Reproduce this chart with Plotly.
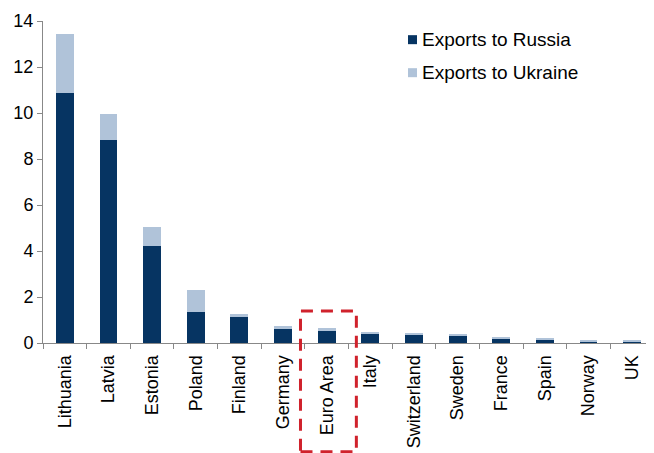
import plotly.graph_objects as go

countries = ["Lithuania", "Latvia", "Estonia", "Poland", "Finland", "Germany", "Euro Area",
             "Italy", "Switzerland", "Sweden", "France", "Spain", "Norway", "UK"]
russia = [10.88, 8.83, 4.2, 1.35, 1.17, 0.62, 0.52, 0.38, 0.38, 0.32, 0.19, 0.14, 0.07, 0.07]
ukraine = [2.55, 1.13, 0.84, 0.95, 0.08, 0.14, 0.13, 0.09, 0.06, 0.08, 0.03, 0.04, 0.05, 0.03]
y_ticks = [0, 2, 4, 6, 8, 10, 12, 14]
series_names = ["Exports to Russia", "Exports to Ukraine"]
colors = ["#063462", "#b0c3d9"]

fig = go.Figure()
fig.add_trace(go.Bar(x=countries, y=russia, name=series_names[0],
                     marker=dict(color=colors[0], line=dict(width=0)), width=0.41))
fig.add_trace(go.Bar(x=countries, y=ukraine, name=series_names[1],
                     marker=dict(color=colors[1], line=dict(width=0)), width=0.41))

# highlight box around Euro Area
fig.add_shape(type="rect", xref="x", yref="paper", x0=5.4, x1=6.68, y0=-0.338, y1=0.099,
              line=dict(color="#d0222c", width=3, dash="12px,8px"), fillcolor="rgba(0,0,0,0)")

# manual legend
for i, (nm, col) in enumerate(zip(series_names, colors)):
    yy = 0.942 - i * 0.1025
    fig.add_shape(type="rect", xref="paper", yref="paper",
                  x0=(408 - 43) / 611, x1=(417 - 43) / 611,
                  y0=yy - 4.5 / 322, y1=yy + 4.5 / 322,
                  fillcolor=col, line=dict(width=0))
    fig.add_annotation(xref="paper", yref="paper", x=(420 - 43) / 611, y=yy,
                       xanchor="left", yanchor="middle", text=nm, showarrow=False,
                       font=dict(size=19, color="black"))

font = "Liberation Sans, Arial, sans-serif"
fig.update_layout(
    width=646, height=445,
    barmode="stack",
    paper_bgcolor="white", plot_bgcolor="white",
    margin=dict(l=35, r=0, t=13, b=110),
    font=dict(family=font, size=18, color="black"),
    showlegend=False,
    xaxis=dict(tickangle=-90, showline=True, linecolor="#888888", linewidth=1,
               ticks="outside", tickson="boundaries", ticklen=5, tickcolor="#888888",
               showgrid=False, tickfont=dict(size=18), automargin=False,
               ticklabelstandoff=4),
    yaxis=dict(range=[0, 14], tickvals=y_ticks, showline=True, linecolor="#888888", linewidth=1,
               ticks="outside", ticklen=5, tickcolor="#888888", showgrid=False, zeroline=False,
               tickfont=dict(size=18), automargin=False),
)
fig.write_html("out.html")
